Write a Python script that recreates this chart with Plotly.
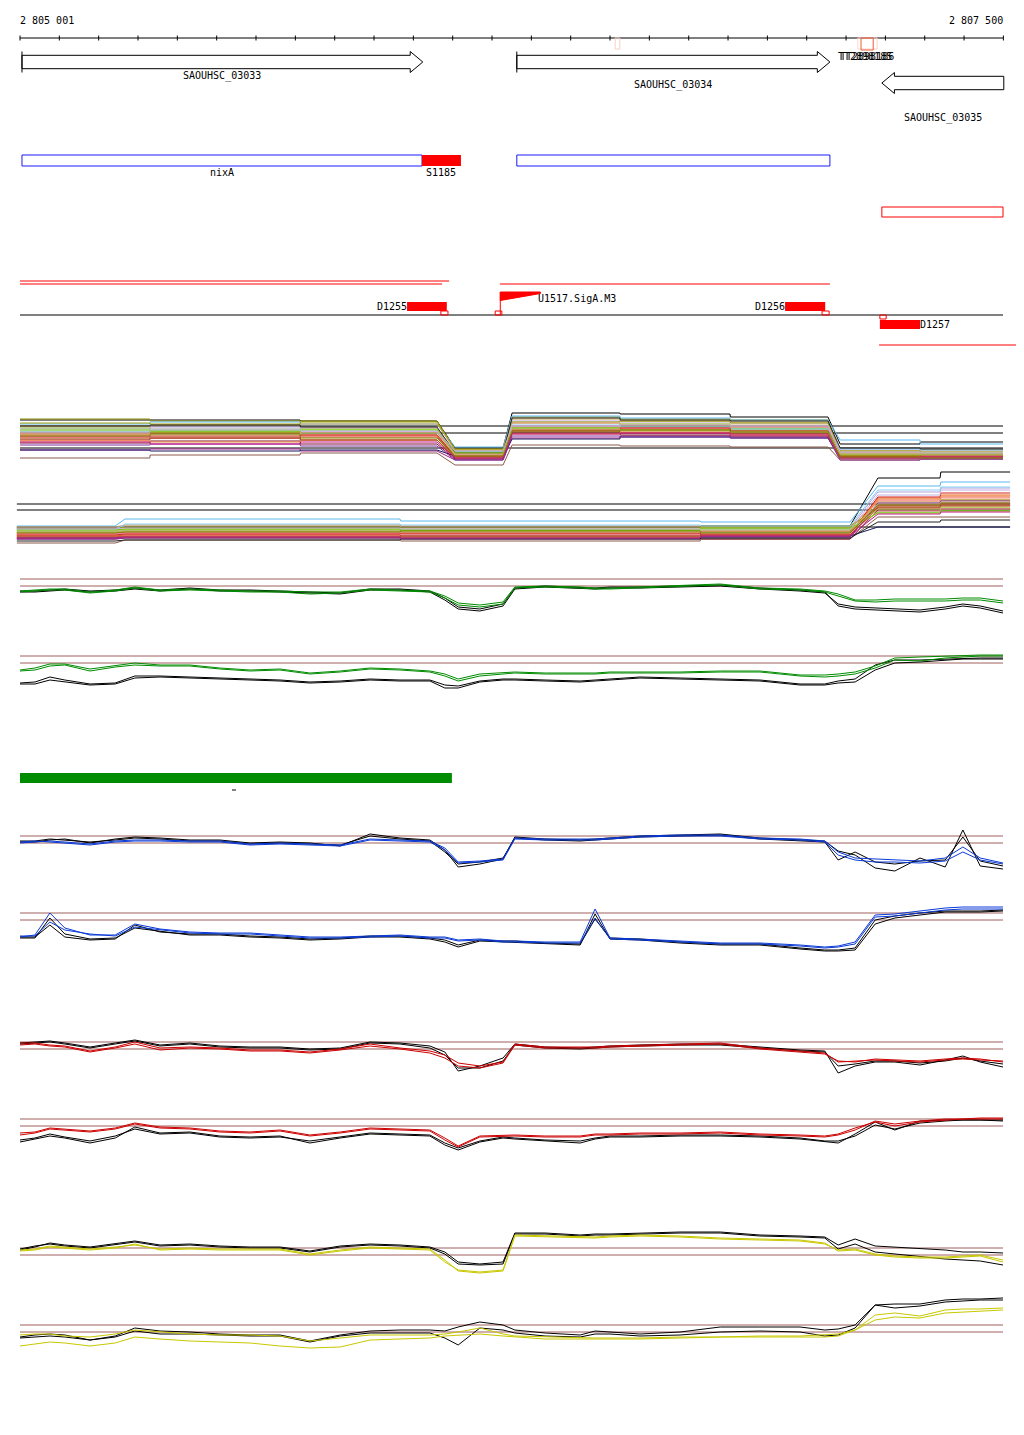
import plotly.graph_objects as go

# ---------------- genome window / scale ----------------
REGION_START = 2805001
REGION_END = 2807500
TICK_STEP = 100
SCALE_LABELS = ["2 805 001", "2 807 500"]

# ---------------- gene annotation ----------------
GENE_NAMES = ["SAOUHSC_03033", "SAOUHSC_03034", "SAOUHSC_03035"]
GENE_START = [2805006, 2806264, 2807192]
GENE_END = [2806025, 2807060, 2807502]
GENE_STRAND = ["+", "+", "-"]

TERM_NAMES = ["TT2898185", "TT2898186"]
TERM_START = [2807131, 2807139]
TERM_END = [2807180, 2807170]
FAINT_TERM_START = 2806514
FAINT_TERM_END = 2806526

REGION_NAMES = ["nixA", "S1185", "", ""]
REGION_FROM = [2805006, 2806023, 2806264, 2807192]
REGION_TO = [2806023, 2806122, 2807060, 2807500]
REGION_KIND = ["cds", "srna", "cds", "antisense"]

SEG_FROM = [2805001, 2805001, 2806221, 2807185]
SEG_TO = [2806092, 2806074, 2807060, 2807560]

FEAT_NAMES = ["D1255", "D1256", "D1257"]
FEAT_FROM = [2805985, 2806946, 2807187]
FEAT_TO = [2806086, 2807048, 2807289]
FEAT_STRAND = ["+", "+", "-"]

TSS_FROM = [2806071, 2806209, 2807040, 2807187]
TSS_TO = [2806089, 2806226, 2807058, 2807203]
TSS_STRAND = ["+", "+", "+", "-"]

PROM_NAME = "U1517.SigA.M3"
PROM_POS = 2806222
PROM_LEN = 102

CONSERVED_FROM = 2805001
CONSERVED_TO = 2806099
MARK_FROM = 2805540
MARK_TO = 2805550

# ---------------- condition profiles (multi-condition tracks) ----------------
COND_COLORS = ["#000000", "#8b8b00", "#5bb8f0", "#e8682c", "#66dd00", "#a0208a", "#8b5a4a",
               "#f07090", "#b4a0d8", "#c8a050", "#d42020", "#1a1a60", "#7a1030", "#f09070",
               "#a0a000", "#4cbb17", "#f08c3c", "#87cefa", "#8030a0", "#d2b48c", "#222222",
               "#e06030", "#ff80b0", "#a0522d", "#7ccd00", "#c0b0e0", "#cc3333", "#bdb76b",
               "#c71585", "#808000"]

PLUS_SEG_FROM = [2805001, 2805332, 2805714, 2806107, 2806252, 2806527, 2806807, 2807086, 2807290]
PLUS_SEG_TO = [2805331, 2805713, 2806061, 2806229, 2806526, 2806806, 2807055, 2807289, 2807500]
PLUS_S1 = [8.0, 8.1, 7.6, 6.6, 7.2, 5.0, 4.2, 6.4, 7.1, 7.4, 6.0, 5.0, 5.7, 6.2, 7.7,
           6.8, 5.9, 6.9, 5.5, 7.3, 7.4, 6.5, 6.7, 6.1, 7.0, 6.8, 6.3, 6.6, 5.8, 6.4]
PLUS_S2 = [8.0, 7.9, 7.8, 6.8, 7.0, 5.1, 4.5, 6.2, 7.3, 7.5, 6.2, 4.9, 5.9, 6.3, 7.6,
           6.9, 5.8, 7.1, 5.6, 7.1, 7.5, 6.7, 6.5, 6.2, 6.8, 7.0, 6.4, 6.5, 5.6, 6.6]
PLUS_S3 = [7.9, 7.9, 7.6, 6.5, 7.1, 4.9, 4.7, 6.4, 7.2, 7.6, 6.0, 5.0, 5.6, 6.5, 7.8,
           6.7, 6.0, 6.9, 5.4, 7.2, 7.3, 6.3, 6.8, 6.0, 7.0, 6.9, 6.5, 6.7, 5.8, 6.2]
PLUS_DIP = [5.2, 5.0, 5.3, 4.5, 4.8, 4.0, 3.5, 4.3, 4.9, 5.0, 4.2, 4.4, 4.1, 4.4, 5.1,
            4.8, 4.3, 4.8, 4.0, 4.7, 4.7, 4.5, 4.6, 4.3, 4.7, 4.9, 4.4, 4.5, 4.2, 4.4]
PLUS_M1 = [8.7, 8.3, 8.4, 7.7, 7.4, 6.2, 5.5, 7.3, 7.9, 8.1, 6.9, 6.1, 6.7, 7.1, 7.8,
           7.2, 6.6, 7.5, 6.4, 7.7, 8.2, 7.0, 7.4, 6.8, 7.2, 7.4, 7.0, 7.1, 6.6, 6.9]
PLUS_M2 = [8.6, 8.1, 8.2, 7.5, 7.6, 6.4, 5.4, 7.1, 7.8, 7.9, 6.7, 6.3, 6.5, 6.9, 7.9,
           7.3, 6.8, 7.3, 6.3, 7.6, 8.0, 7.2, 7.2, 7.0, 7.0, 7.5, 7.2, 6.9, 6.7, 7.0]
PLUS_M3 = [8.3, 8.0, 8.0, 7.3, 7.2, 6.3, 5.3, 7.0, 7.7, 7.8, 6.6, 6.2, 6.4, 6.8, 7.7,
           7.1, 6.5, 7.1, 6.2, 7.5, 7.9, 6.9, 7.3, 6.7, 6.9, 7.4, 6.9, 6.8, 6.5, 6.8]
PLUS_R1 = [5.6, 4.8, 6.0, 4.4, 4.7, 4.2, 4.0, 4.5, 5.0, 4.9, 4.4, 4.2, 4.3, 4.3, 4.9,
           4.6, 4.1, 5.1, 4.0, 4.8, 5.2, 4.5, 4.7, 4.4, 4.5, 4.8, 4.3, 4.6, 4.2, 4.3]
PLUS_R2 = [5.8, 4.7, 5.6, 4.5, 4.6, 4.1, 4.1, 4.6, 4.9, 5.0, 4.3, 4.3, 4.2, 4.4, 4.8,
           4.5, 4.2, 5.0, 4.1, 4.7, 5.1, 4.4, 4.6, 4.5, 4.6, 4.7, 4.4, 4.5, 4.3, 4.2]
PLUS_THRESH = [7.4, 6.7, 5.2]

MINUS_SEG_FROM = [2804993, 2805268, 2805969, 2806732, 2807182, 2807342]
MINUS_SEG_TO = [2805243, 2805967, 2806730, 2807111, 2807340, 2807518]
MINUS_S1 = [7.2, 7.0, 7.4, 6.5, 6.9, 6.3, 5.7, 6.7, 7.2, 7.3, 6.4, 6.2, 6.1, 6.6, 7.1,
            6.8, 6.4, 7.0, 6.1, 6.9, 5.9, 6.7, 6.6, 6.3, 7.0, 7.1, 6.5, 6.8, 6.2, 6.7]
MINUS_S2 = [7.3, 7.1, 8.1, 6.6, 7.0, 6.4, 6.0, 6.7, 7.4, 7.5, 6.5, 6.3, 6.2, 6.6, 7.3,
            6.9, 6.4, 7.6, 6.2, 7.0, 6.0, 6.8, 6.7, 6.3, 7.1, 7.2, 6.6, 6.9, 6.3, 6.8]
MINUS_S3 = [7.3, 7.0, 7.9, 6.7, 6.9, 6.5, 5.9, 6.6, 7.3, 7.4, 6.4, 6.2, 6.3, 6.5, 7.2,
            7.0, 6.3, 7.5, 6.1, 7.1, 6.1, 6.7, 6.8, 6.4, 7.0, 7.1, 6.7, 6.8, 6.2, 6.9]
MINUS_S4 = [7.4, 7.2, 7.8, 6.6, 7.1, 6.3, 6.1, 6.8, 7.2, 7.3, 6.6, 6.4, 6.1, 6.7, 7.4,
            6.8, 6.5, 7.4, 6.3, 6.9, 6.2, 6.9, 6.6, 6.5, 7.2, 7.0, 6.5, 7.0, 6.4, 6.7]
MINUS_R1 = [12.2, 9.5, 11.4, 10.2, 9.0, 9.5, 8.3, 10.0, 10.8, 9.8, 10.3, 7.3, 9.0, 9.9, 9.2,
            8.8, 10.1, 11.0, 9.7, 9.6, 7.8, 9.4, 8.9, 9.3, 8.7, 10.5, 9.2, 9.1, 8.6, 9.5]
MINUS_R2 = [12.8, 10.0, 11.8, 10.5, 9.2, 9.7, 8.3, 10.3, 11.2, 10.0, 10.7, 7.3, 9.1, 10.2, 9.4,
            9.0, 10.4, 11.3, 9.9, 9.8, 8.0, 9.6, 9.1, 9.5, 8.9, 11.0, 9.4, 9.3, 8.8, 9.7]
MINUS_THRESH = [9.6, 9.0, 7.3]

# ---------------- replicate profiles (paired tracks) ----------------
GRID = [2805001, 2805039, 2805077, 2805115, 2805179, 2805243, 2805293, 2805357, 2805433,
        2805509, 2805586, 2805662, 2805738, 2805815, 2805891, 2805967, 2806043, 2806081,
        2806115, 2806170, 2806229, 2806259, 2806336, 2806425, 2806463, 2806501, 2806577,
        2806679, 2806781, 2806882, 2806984, 2807047, 2807081, 2807124, 2807175, 2807225,
        2807289, 2807353, 2807398, 2807442, 2807500]

T3_GREEN_A = [10.9, 11.0, 11.1, 11.1, 10.8, 11.0, 11.3, 11.0, 11.1, 11.0, 10.9, 10.9, 10.8, 10.8, 11.1, 11.0, 10.9, 10.4, 9.7, 9.5, 9.8, 11.3, 11.4, 11.3, 11.2, 11.2, 11.3, 11.4, 11.6, 11.2, 11.1, 10.9, 10.6, 10.0, 10.0, 10.1, 10.1, 10.1, 10.2, 10.2, 9.9]
T3_GREEN_B = [10.8, 10.9, 11.0, 11.0, 10.7, 10.9, 11.2, 10.9, 11.0, 10.9, 10.8, 10.8, 10.6, 10.7, 11.0, 10.9, 10.8, 10.2, 9.5, 9.3, 9.6, 11.2, 11.3, 11.2, 11.1, 11.1, 11.2, 11.3, 11.5, 11.1, 11.0, 10.8, 10.4, 9.9, 9.8, 9.9, 9.9, 9.9, 10.0, 10.0, 9.7]
T3_BLACK_A = [10.9, 10.9, 11.0, 11.1, 10.9, 11.0, 11.2, 11.0, 11.2, 11.0, 11.0, 10.9, 10.8, 10.7, 11.1, 11.1, 10.9, 10.2, 9.3, 9.1, 9.6, 11.2, 11.4, 11.3, 11.2, 11.3, 11.3, 11.4, 11.5, 11.2, 11.0, 10.8, 9.4, 9.1, 9.0, 8.9, 8.8, 9.1, 9.4, 9.2, 8.7]
T3_BLACK_B = [10.8, 10.8, 10.9, 11.0, 10.8, 10.9, 11.1, 10.9, 11.1, 10.9, 10.9, 10.8, 10.7, 10.6, 11.0, 11.0, 10.8, 10.0, 9.1, 8.9, 9.4, 11.1, 11.3, 11.2, 11.1, 11.2, 11.2, 11.3, 11.4, 11.1, 10.9, 10.7, 9.6, 9.3, 9.2, 9.1, 9.0, 9.3, 9.6, 9.4, 8.9]
T3_THRESH = [12.1, 11.4]

T4_GREEN_A = [8.0, 8.2, 8.6, 8.6, 8.1, 8.4, 8.7, 8.5, 8.5, 8.2, 8.0, 8.1, 7.7, 7.9, 8.2, 8.1, 7.9, 7.6, 7.1, 7.6, 7.7, 7.8, 7.7, 7.7, 7.7, 7.8, 7.8, 7.8, 7.9, 7.9, 7.5, 7.5, 7.6, 7.8, 8.4, 9.2, 9.3, 9.4, 9.5, 9.5, 9.5]
T4_GREEN_B = [7.9, 8.0, 8.4, 8.5, 7.9, 8.3, 8.5, 8.4, 8.4, 8.1, 7.9, 8.0, 7.6, 7.8, 8.1, 8.0, 7.8, 7.4, 6.9, 7.4, 7.6, 7.7, 7.6, 7.6, 7.6, 7.7, 7.7, 7.7, 7.8, 7.8, 7.4, 7.3, 7.4, 7.6, 8.2, 9.0, 8.9, 9.2, 9.3, 9.4, 9.4]
T4_BLACK_A = [6.7, 6.8, 7.3, 7.0, 6.6, 6.7, 7.4, 7.4, 7.3, 7.2, 7.1, 7.0, 6.8, 6.9, 7.1, 7.0, 7.0, 6.5, 6.4, 6.9, 7.1, 7.1, 7.0, 6.9, 7.0, 7.1, 7.3, 7.2, 7.1, 7.0, 6.6, 6.6, 6.9, 7.1, 8.5, 9.0, 9.0, 9.1, 9.2, 9.2, 9.2]
T4_BLACK_B = [6.6, 6.6, 7.0, 6.8, 6.5, 6.6, 7.2, 7.3, 7.2, 7.1, 7.0, 6.9, 6.7, 6.8, 7.0, 6.9, 6.9, 6.2, 6.2, 6.8, 7.0, 7.0, 6.9, 6.8, 6.9, 7.0, 7.2, 7.1, 7.0, 6.9, 6.5, 6.5, 6.7, 6.8, 8.0, 8.7, 8.8, 9.0, 9.1, 9.1, 9.1]
T4_THRESH = [9.4, 8.7]

T5_BLUE_A = [10.7, 10.8, 10.9, 10.8, 10.6, 10.9, 11.0, 11.0, 10.9, 10.9, 10.6, 10.7, 10.6, 10.5, 11.1, 11.0, 10.9, 10.2, 8.8, 8.9, 9.1, 11.2, 11.1, 11.1, 11.1, 11.2, 11.4, 11.5, 11.5, 11.2, 11.1, 10.9, 9.8, 9.2, 9.1, 9.0, 8.9, 9.2, 10.3, 9.2, 8.7]
T5_BLUE_B = [10.8, 10.9, 10.8, 10.7, 10.5, 10.8, 10.9, 10.9, 10.8, 10.8, 10.5, 10.6, 10.5, 10.4, 11.0, 10.9, 10.8, 10.0, 8.7, 8.8, 9.0, 11.1, 11.0, 11.0, 11.0, 11.1, 11.3, 11.4, 11.4, 11.1, 11.0, 10.8, 9.5, 9.0, 8.8, 8.8, 8.7, 8.9, 9.8, 9.0, 8.6]
T5_BLACK_A = [10.8, 10.8, 11.0, 11.1, 10.7, 11.1, 11.3, 11.2, 11.0, 11.0, 10.7, 10.8, 10.7, 10.4, 11.6, 11.2, 11.0, 10.0, 8.3, 8.6, 9.1, 11.3, 11.1, 11.0, 11.1, 11.2, 11.4, 11.5, 11.6, 11.2, 11.0, 10.9, 9.9, 9.5, 8.2, 7.9, 9.2, 8.3, 12.0, 8.4, 8.1]
T5_BLACK_B = [10.9, 10.9, 11.1, 11.0, 10.8, 11.0, 11.2, 11.1, 10.9, 10.9, 10.6, 10.7, 10.6, 10.5, 11.4, 11.1, 10.9, 9.8, 8.6, 8.8, 9.2, 11.2, 11.0, 10.9, 11.0, 11.1, 11.3, 11.4, 11.5, 11.1, 10.9, 10.8, 9.0, 9.8, 8.8, 8.6, 8.9, 9.0, 11.3, 8.9, 8.4]
T5_THRESH = [11.4, 10.7]

T6_BLUE_A = [6.3, 6.5, 8.7, 7.2, 6.5, 6.5, 7.6, 7.1, 6.8, 6.7, 6.7, 6.5, 6.3, 6.3, 6.4, 6.5, 6.3, 6.3, 6.0, 6.1, 5.9, 5.9, 5.8, 5.8, 9.1, 6.2, 6.1, 5.9, 5.7, 5.7, 5.5, 5.3, 5.4, 5.8, 8.5, 8.6, 8.9, 9.2, 9.3, 9.3, 9.3]
T6_BLUE_B = [6.4, 6.4, 7.8, 7.0, 6.6, 6.4, 7.3, 7.0, 6.7, 6.6, 6.6, 6.4, 6.2, 6.2, 6.3, 6.4, 6.2, 6.2, 5.9, 6.0, 5.8, 5.8, 5.7, 5.7, 8.2, 6.1, 6.0, 5.8, 5.6, 5.6, 5.4, 5.2, 5.3, 5.6, 8.3, 8.4, 8.7, 9.0, 9.1, 9.1, 9.1]
T6_BLACK_A = [6.3, 6.3, 7.5, 6.3, 6.0, 6.1, 7.5, 6.8, 6.6, 6.6, 6.4, 6.3, 6.1, 6.2, 6.4, 6.4, 6.2, 6.0, 5.5, 6.0, 5.9, 5.9, 5.7, 5.6, 8.1, 6.2, 6.1, 5.8, 5.6, 5.6, 5.2, 5.0, 5.0, 5.2, 8.0, 8.4, 8.7, 8.9, 8.9, 8.9, 9.0]
T6_BLACK_B = [6.2, 6.2, 8.2, 6.6, 6.1, 6.2, 7.2, 6.9, 6.5, 6.5, 6.3, 6.2, 6.0, 6.1, 6.3, 6.3, 6.1, 5.8, 5.3, 5.9, 5.8, 5.8, 5.6, 5.5, 8.6, 6.1, 6.0, 5.7, 5.5, 5.5, 5.1, 4.9, 4.9, 5.0, 7.6, 8.2, 8.5, 8.8, 8.8, 8.8, 8.9]
T6_THRESH = [8.7, 8.0]

T7_RED_A = [10.5, 10.6, 10.4, 10.3, 9.8, 10.2, 10.6, 10.0, 10.2, 10.1, 9.9, 9.9, 9.7, 10.0, 10.4, 10.1, 9.7, 9.2, 8.4, 8.2, 8.7, 10.5, 10.2, 10.2, 10.2, 10.3, 10.4, 10.5, 10.6, 10.1, 9.8, 9.6, 8.9, 8.8, 9.1, 9.0, 8.9, 9.1, 9.2, 9.1, 8.8]
T7_RED_B = [10.7, 10.7, 10.5, 10.4, 9.9, 10.3, 10.8, 10.2, 10.3, 10.2, 10.0, 10.0, 9.8, 10.1, 10.6, 10.2, 9.9, 9.5, 8.7, 8.4, 8.8, 10.6, 10.3, 10.3, 10.3, 10.4, 10.5, 10.6, 10.7, 10.2, 9.9, 9.7, 8.8, 8.9, 9.0, 8.9, 8.8, 9.0, 9.1, 9.0, 8.9]
T7_BLACK_A = [10.7, 10.8, 10.9, 10.7, 10.3, 10.7, 11.0, 10.5, 10.7, 10.4, 10.3, 10.3, 10.1, 10.2, 10.8, 10.7, 10.4, 9.8, 7.9, 8.4, 9.2, 10.6, 10.3, 10.2, 10.3, 10.4, 10.5, 10.6, 10.6, 10.3, 10.0, 9.9, 7.7, 8.4, 8.8, 8.8, 8.5, 9.0, 9.4, 8.8, 8.3]
T7_BLACK_B = [10.6, 10.7, 10.8, 10.6, 10.2, 10.6, 10.9, 10.4, 10.6, 10.3, 10.2, 10.2, 10.0, 10.1, 10.7, 10.6, 10.2, 9.5, 8.2, 8.2, 8.9, 10.5, 10.2, 10.1, 10.2, 10.3, 10.4, 10.5, 10.5, 10.2, 9.9, 9.8, 8.4, 8.6, 8.9, 8.9, 8.7, 8.9, 9.2, 8.9, 8.6]
T7_THRESH = [10.8, 10.1]

T8_RED_A = [6.5, 6.7, 7.1, 7.0, 6.8, 7.1, 7.6, 7.2, 7.1, 6.8, 6.7, 6.9, 6.4, 6.7, 7.1, 7.0, 6.9, 6.0, 5.3, 6.3, 6.4, 6.4, 6.3, 6.3, 6.5, 6.5, 6.6, 6.6, 6.7, 6.5, 6.4, 6.3, 6.5, 7.0, 7.9, 7.6, 7.9, 8.1, 8.1, 8.1, 8.1]
T8_RED_B = [6.7, 6.8, 7.2, 7.1, 6.9, 7.2, 7.7, 7.3, 7.2, 6.9, 6.8, 7.0, 6.5, 6.8, 7.2, 7.1, 7.0, 6.2, 5.4, 6.4, 6.5, 6.5, 6.4, 6.4, 6.6, 6.6, 6.7, 6.7, 6.8, 6.6, 6.5, 6.4, 6.6, 7.2, 7.8, 7.4, 7.8, 8.0, 8.1, 8.2, 8.2]
T8_BLACK_A = [5.8, 6.1, 6.4, 6.2, 5.7, 6.2, 7.3, 6.7, 6.8, 6.4, 6.3, 6.4, 5.7, 6.2, 6.6, 6.5, 6.4, 5.5, 5.0, 5.8, 6.2, 6.1, 5.9, 5.7, 6.1, 6.3, 6.3, 6.4, 6.4, 6.3, 6.1, 5.8, 5.7, 6.6, 7.8, 7.0, 7.9, 8.0, 8.0, 8.0, 7.9]
T8_BLACK_B = [6.0, 6.2, 6.6, 6.3, 5.9, 6.4, 7.1, 6.6, 6.7, 6.3, 6.2, 6.3, 5.9, 6.3, 6.7, 6.6, 6.5, 5.7, 5.2, 5.9, 6.3, 6.2, 6.0, 5.9, 6.2, 6.4, 6.4, 6.5, 6.5, 6.4, 6.2, 5.9, 5.9, 6.4, 7.5, 7.1, 7.7, 7.9, 8.0, 8.0, 8.0]
T8_THRESH = [8.1, 7.4]

T9_YELLOW_A = [9.9, 10.0, 10.3, 10.2, 10.0, 10.2, 10.6, 10.0, 10.1, 10.0, 10.0, 10.0, 9.5, 9.9, 10.2, 10.1, 10.0, 8.8, 8.0, 7.8, 8.0, 11.5, 11.4, 11.3, 11.3, 11.4, 11.5, 11.4, 11.2, 11.1, 11.0, 10.7, 9.9, 10.0, 9.5, 9.3, 9.2, 9.2, 9.3, 9.4, 8.8]
T9_YELLOW_B = [10.0, 10.1, 10.4, 10.3, 10.1, 10.3, 10.5, 10.1, 10.2, 10.1, 10.1, 10.1, 9.6, 10.0, 10.3, 10.2, 10.1, 9.0, 7.9, 7.7, 7.9, 11.4, 11.3, 11.2, 11.2, 11.3, 11.4, 11.3, 11.1, 11.0, 10.9, 10.6, 10.0, 10.1, 9.6, 9.4, 9.3, 9.3, 9.4, 9.5, 9.0]
T9_BLACK_A = [10.0, 10.3, 10.7, 10.5, 10.3, 10.6, 10.9, 10.5, 10.6, 10.4, 10.3, 10.3, 9.9, 10.4, 10.6, 10.5, 10.3, 9.8, 8.8, 8.6, 8.8, 11.7, 11.7, 11.5, 11.6, 11.6, 11.7, 11.8, 11.8, 11.5, 11.4, 11.3, 10.5, 11.1, 10.4, 10.3, 10.2, 10.0, 9.8, 9.8, 9.7]
T9_BLACK_B = [10.1, 10.4, 10.6, 10.4, 10.2, 10.5, 10.8, 10.4, 10.5, 10.3, 10.2, 10.2, 9.8, 10.3, 10.5, 10.4, 10.2, 9.6, 8.6, 8.5, 8.6, 11.6, 11.6, 11.4, 11.5, 11.5, 11.6, 11.7, 11.7, 11.4, 11.3, 11.2, 10.1, 10.6, 9.8, 9.6, 9.4, 9.1, 9.0, 8.9, 8.5]
T9_THRESH = [10.2, 9.5]

T10_YELLOW_A = [6.5, 6.6, 6.6, 6.4, 6.3, 6.6, 7.0, 6.8, 6.6, 6.5, 6.5, 6.4, 5.9, 6.2, 6.5, 6.5, 6.5, 6.6, 6.8, 7.2, 6.6, 6.4, 6.3, 6.2, 6.2, 6.2, 6.2, 6.3, 6.3, 6.3, 6.3, 6.3, 6.4, 7.0, 8.5, 8.7, 8.4, 9.0, 9.1, 9.1, 9.2]
T10_YELLOW_B = [5.4, 5.6, 5.8, 5.7, 5.4, 5.7, 6.3, 6.1, 5.9, 5.8, 5.7, 5.4, 5.2, 5.3, 6.0, 6.1, 6.2, 6.4, 6.5, 6.6, 6.4, 6.3, 6.1, 6.1, 6.1, 6.1, 6.1, 6.2, 6.3, 6.4, 6.4, 6.5, 6.6, 7.0, 8.0, 8.3, 8.2, 8.7, 8.8, 8.9, 9.0]
T10_BLACK_A = [6.3, 6.5, 6.6, 6.5, 6.0, 6.4, 7.2, 6.9, 6.8, 6.6, 6.5, 6.5, 5.9, 6.5, 6.9, 7.0, 7.0, 6.9, 7.3, 7.8, 7.5, 7.0, 6.7, 6.5, 6.9, 6.8, 6.6, 6.8, 7.3, 7.3, 7.3, 7.0, 7.1, 7.5, 9.5, 9.6, 9.6, 10.0, 10.1, 10.1, 10.2]
T10_BLACK_B = [6.2, 6.3, 6.4, 6.3, 6.0, 6.3, 6.9, 6.6, 6.6, 6.5, 6.4, 6.4, 5.8, 6.4, 6.7, 6.7, 6.7, 6.2, 5.5, 7.2, 7.0, 6.7, 6.4, 6.3, 6.6, 6.6, 6.4, 6.5, 6.8, 6.9, 6.8, 6.4, 6.5, 7.2, 9.5, 9.2, 9.4, 9.8, 9.9, 10.0, 10.0]
T10_THRESH = [7.5, 6.8]

# ---------------- layout (pixels, in page coordinates) ----------------
PAGE_OFFSET = 8                     # default body margin of the html page
FIG_W, FIG_H = 1024 - PAGE_OFFSET, 1435 - PAGE_OFFSET
LEFT_PX, RIGHT_PX = 20, 1003
BP_PER_PX = (REGION_END - REGION_START) / (RIGHT_PX - LEFT_PX)
X0 = REGION_START - (LEFT_PX - PAGE_OFFSET) * BP_PER_PX
X1 = X0 + FIG_W * BP_PER_PX
PX_PER_UNIT = 10
# (bottom pixel row, value range) for each data track
TRACK_AXES = [(500, 10), (600, 13), (700, 14), (750, 12), (950, 13),
              (1000, 10), (1150, 12), (1200, 9), (1350, 13), (1400, 11)]

FONT = "DejaVu Sans Mono"
RED = "#ff0000"
BLUE = "#1a1aff"
THR = "#a0605c"

fig = go.Figure()
shapes = []
annotations = []


def line_shape(x0, x1, y0, y1, color, yref="y", width=1, layer="above"):
    shapes.append(dict(type="line", xref="x", yref=yref, x0=x0, x1=x1, y0=y0, y1=y1,
                       line=dict(color=color, width=width), layer=layer))


def rect_shape(x0, x1, y0, y1, line=None, fill=None):
    shapes.append(dict(type="rect", xref="x", yref="y", x0=x0, x1=x1, y0=y0, y1=y1,
                       line=dict(color=line if line else "rgba(0,0,0,0)", width=1 if line else 0),
                       fillcolor=fill if fill else "rgba(0,0,0,0)"))


def label(x, y, text, anchor="center", color="black", size=10):
    annotations.append(dict(x=x, y=y, xref="x", yref="y", text=text, showarrow=False,
                            xanchor=anchor, yanchor="middle", borderpad=0, borderwidth=0,
                            font=dict(family=FONT, size=size, color=color)))


def add_line(xs, ys, color, axis, width=1):
    fig.add_trace(go.Scatter(x=xs, y=ys, mode="lines", xaxis="x", yaxis=axis,
                             line=dict(color=color, width=width), hoverinfo="skip",
                             showlegend=False))


def segment_profile(froms, tos, levels):
    xs, ys = [], []
    for f, t, v in zip(froms, tos, levels):
        xs += [f, t]
        ys += [v, v]
    return xs, ys


# ---- scale bar ----
SCALE_Y = 38
line_shape(REGION_START, REGION_END, SCALE_Y, SCALE_Y, "black")
for t in range(REGION_START, REGION_END + 2, TICK_STEP):
    line_shape(t, t, SCALE_Y - 2.5, SCALE_Y + 2.5, "black")
label(REGION_START, 20, SCALE_LABELS[0], anchor="left")
label(REGION_END, 20, SCALE_LABELS[1], anchor="right")

# terminators (labels overlap each other, as in the source browser view)
rect_shape(FAINT_TERM_START, FAINT_TERM_END, 38, 49, line="#f6cfc4")
rect_shape(TERM_START[0], TERM_END[0], 38, 49, line="#fbd8cc")
rect_shape(TERM_START[1], TERM_END[1], 38, 50, line="#f05a3a")
label(2807081, 56, TERM_NAMES[0], anchor="left")
label(2807086, 56, TERM_NAMES[1], anchor="left")

# ---- genes ----
HEAD_BP = 32
GENE_ROW_Y = [62, 62, 83]
GENE_LABEL_Y = [76, 85, 118]
for name, s, e, strand, yc, ly in zip(GENE_NAMES, GENE_START, GENE_END, GENE_STRAND,
                                      GENE_ROW_Y, GENE_LABEL_Y):
    bh, hh = 6.7, 10.5
    if strand == "+":
        hb = e - HEAD_BP
        xs = [s, hb, hb, e, hb, hb, s, s]
        line_shape(s, s, yc - hh, yc + hh, "black")
    else:
        hb = s + HEAD_BP
        xs = [e, hb, hb, s, hb, hb, e, e]
    ys = [yc - bh, yc - bh, yc - hh, yc, yc + hh, yc + bh, yc + bh, yc - bh]
    fig.add_trace(go.Scatter(x=xs, y=ys, mode="lines", fill="toself", fillcolor="white",
                             line=dict(color="black", width=1), xaxis="x", yaxis="y",
                             hoverinfo="skip", showlegend=False))
    label((s + e) / 2, ly, name)

# ---- annotated regions ----
for name, s, e, kind in zip(REGION_NAMES, REGION_FROM, REGION_TO, REGION_KIND):
    if kind == "cds":
        rect_shape(s, e, 155, 166, line=BLUE)
    elif kind == "srna":
        rect_shape(s, e, 155, 166, fill=RED)
    else:
        rect_shape(s, e, 207, 217, line=RED)
    if name:
        label((s + e) / 2, 172, name)

# ---- transcribed segments ----
SEG_Y = [281, 284, 284, 345]
for s, e, y in zip(SEG_FROM, SEG_TO, SEG_Y):
    line_shape(s, e, y, y, RED)

line_shape(REGION_START, REGION_END, 315, 315, "black")

for name, s, e, strand in zip(FEAT_NAMES, FEAT_FROM, FEAT_TO, FEAT_STRAND):
    if strand == "+":
        rect_shape(s, e, 302, 311, fill=RED)
        label(s, 306, name, anchor="right")
    else:
        rect_shape(s, e, 320, 329, fill=RED)
        label(e, 324, name, anchor="left")

for s, e, strand in zip(TSS_FROM, TSS_TO, TSS_STRAND):
    if strand == "+":
        rect_shape(s, e, 311, 315, line=RED)
    else:
        rect_shape(s, e, 315, 319, line=RED)

line_shape(PROM_POS, PROM_POS, 292, 315, RED)
fig.add_trace(go.Scatter(x=[PROM_POS, PROM_POS + PROM_LEN, PROM_POS + PROM_LEN, PROM_POS, PROM_POS],
                         y=[292, 292, 293.5, 300.5, 292], mode="lines", fill="toself",
                         fillcolor=RED, line=dict(color=RED, width=1), xaxis="x", yaxis="y",
                         hoverinfo="skip", showlegend=False))
label(PROM_POS + PROM_LEN * 0.94, 298, PROM_NAME, anchor="left")

# conserved block
rect_shape(CONSERVED_FROM, CONSERVED_TO, 773, 783, fill="#008c00")
line_shape(MARK_FROM, MARK_TO, 790, 790, "black")

# ---- multi-condition tracks ----
for v in PLUS_THRESH:
    add_line([REGION_START, REGION_END], [v, v], "black", "y2")
PLUS_LEVELS = [PLUS_S1, PLUS_S2, PLUS_S3, PLUS_DIP, PLUS_M1, PLUS_M2, PLUS_M3, PLUS_R1, PLUS_R2]
for i, c in enumerate(COND_COLORS):
    xs, ys = segment_profile(PLUS_SEG_FROM, PLUS_SEG_TO, [lv[i] for lv in PLUS_LEVELS])
    add_line(xs, ys, c, "y2")

for v in MINUS_THRESH:
    add_line([MINUS_SEG_FROM[0], MINUS_SEG_TO[-1]], [v, v], "black", "y3")
MINUS_LEVELS = [MINUS_S1, MINUS_S2, MINUS_S3, MINUS_S4, MINUS_R1, MINUS_R2]
for i, c in enumerate(COND_COLORS):
    xs, ys = segment_profile(MINUS_SEG_FROM, MINUS_SEG_TO, [lv[i] for lv in MINUS_LEVELS])
    add_line(xs, ys, c, "y3")

# ---- paired replicate tracks ----
PAIRED = [
    ("y4", T3_BLACK_A, T3_BLACK_B, T3_GREEN_A, T3_GREEN_B, "#008c00", T3_THRESH),
    ("y5", T4_BLACK_A, T4_BLACK_B, T4_GREEN_A, T4_GREEN_B, "#008c00", T4_THRESH),
    ("y6", T5_BLACK_A, T5_BLACK_B, T5_BLUE_A, T5_BLUE_B, "#0a3ad6", T5_THRESH),
    ("y7", T6_BLACK_A, T6_BLACK_B, T6_BLUE_A, T6_BLUE_B, "#0a3ad6", T6_THRESH),
    ("y8", T7_BLACK_A, T7_BLACK_B, T7_RED_A, T7_RED_B, "#cc0000", T7_THRESH),
    ("y9", T8_BLACK_A, T8_BLACK_B, T8_RED_A, T8_RED_B, "#cc0000", T8_THRESH),
    ("y10", T9_BLACK_A, T9_BLACK_B, T9_YELLOW_A, T9_YELLOW_B, "#c8c800", T9_THRESH),
    ("y11", T10_BLACK_A, T10_BLACK_B, T10_YELLOW_A, T10_YELLOW_B, "#c8c800", T10_THRESH),
]
for axis, ba, bb, ca, cb, col, thr in PAIRED:
    for v in thr:
        line_shape(REGION_START, REGION_END, v, v, THR, yref=axis, layer="below")
    add_line(GRID, ba, "black", axis)
    add_line(GRID, bb, "black", axis)
    add_line(GRID, ca, col, axis)
    add_line(GRID, cb, col, axis)

# ---- axes ----
layout_axes = {}
for k, (ybot, rng) in enumerate(TRACK_AXES):
    top = ybot - PX_PER_UNIT * rng
    layout_axes["yaxis%d" % (k + 2)] = dict(
        domain=[1 - (ybot - PAGE_OFFSET) / FIG_H, 1 - (top - PAGE_OFFSET) / FIG_H],
        range=[0, rng], visible=False, anchor="x", fixedrange=True)

fig.update_layout(
    width=FIG_W, height=FIG_H, autosize=False,
    margin=dict(l=0, r=0, t=0, b=0, pad=0),
    paper_bgcolor="white", plot_bgcolor="white",
    xaxis=dict(range=[X0, X1], visible=False, domain=[0, 1], fixedrange=True),
    yaxis=dict(range=[FIG_H + PAGE_OFFSET, PAGE_OFFSET], visible=False, domain=[0, 1],
               fixedrange=True),
    shapes=shapes, annotations=annotations, showlegend=False,
    **layout_axes,
)

fig.write_html("out.html")
